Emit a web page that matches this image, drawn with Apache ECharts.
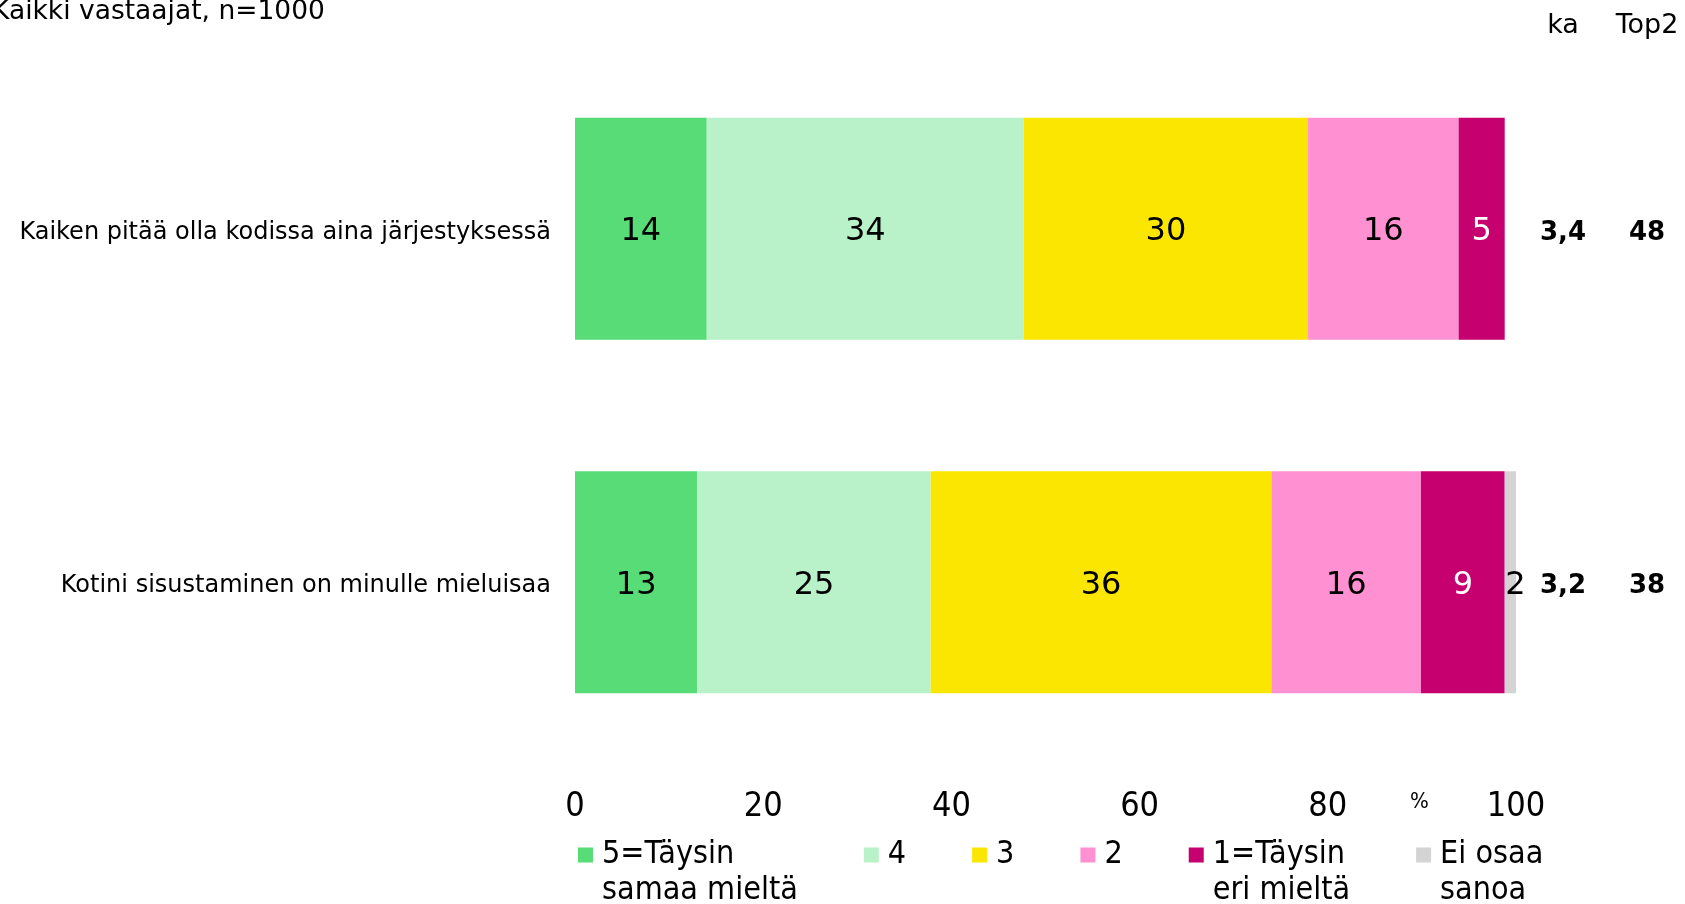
<!DOCTYPE html>
<html>
<head>
<meta charset="utf-8">
<script src="https://cdn.jsdelivr.net/npm/echarts@6/dist/echarts.min.js"></script>
<style>
  html, body { margin: 0; padding: 0; background: #fff; }
  #chart { width: 1685px; height: 904px; }
</style>
</head>
<body>
<div id="chart"></div>
<script>
// statements, top to bottom
const categories = [
  'Kaiken pitää olla kodissa aina järjestyksessä',
  'Kotini sisustaminen on minulle mieluisaa'
];

// shares in %, one array per answer option
const taysinSamaa = [14, 13];
const nelja = [33.7, 24.8];
const kolme = [30.2, 36.2];
const kaksi = [16, 15.9];
const taysinEri = [4.9, 8.9];
const eiOsaa = [0, 1.5];

const kaValues = ['3,4', '3,2'];
const top2Values = ['48', '38'];

const xTicks = [0, 20, 40, 60, 80, 100];

const FONT = 'DejaVu Sans, Verdana, sans-serif';
const FONT_NARROW = 'DejaVu Sans Condensed, DejaVu Sans, sans-serif';

// series definition: [legend name, data, colour, label colour, label offset]
const seriesDefs = [
  ['5=Täysin\nsamaa mieltä', taysinSamaa, '#57DC77', '#000', [0, 3]],
  ['4\n ', nelja, '#B9F2C8', '#000', [0, 3]],
  ['3\n ', kolme, '#FAE600', '#000', [0, 3]],
  ['2\n ', kaksi, '#FF91D2', '#000', [0, 3]],
  ['1=Täysin\neri mieltä', taysinEri, '#C6006F', '#fff', [0, 3]],
  ['Ei osaa\nsanoa', eiOsaa, '#D4D4D4', '#000', [5, 3]]
];

// legend square sits on the first text line (blank space below it in the path box)
const legendIcon = 'path://M0,0H15V15H0Z M19,51';

// small blank line above a label nudges it a few px down
const nudgeRich = { gap: { fontSize: 4, lineHeight: 8 } };
const nudge = s => '{gap| }\n' + s;

const chart = echarts.init(document.getElementById('chart'));

const series = seriesDefs.map(([name, data, colour, labelColour, offset]) => ({
  name: name,
  type: 'bar',
  stack: 'total',
  barWidth: 222,
  data: data,
  itemStyle: { color: colour },
  label: {
    show: true,
    position: 'inside',
    offset: offset,
    color: labelColour,
    fontFamily: FONT,
    fontSize: 32,
    formatter: p => (p.value ? String(Math.round(p.value)) : '')
  }
}));

// right-hand columns (ka, Top2) as extra category axes
function sideAxis(title, values, offset) {
  return {
    type: 'category',
    inverse: true,
    position: 'right',
    offset: offset,
    data: categories,
    axisLine: { show: false },
    axisTick: { show: false },
    axisLabel: {
      margin: 0,
      align: 'center',
      fontFamily: FONT,
      fontWeight: 'bold',
      fontSize: 26,
      lineHeight: 30,
      color: '#000',
      rich: nudgeRich,
      formatter: (v, i) => nudge(values[i])
    },
    name: title,
    nameLocation: 'start',
    nameGap: 13,
    nameTextStyle: { fontFamily: FONT, fontSize: 27, color: '#000', align: 'center' }
  };
}

chart.setOption({
  animation: false,
  title: {
    text: 'Kaikki vastaajat, n=1000',
    left: -8,
    top: -1,
    padding: 0,
    textStyle: { fontFamily: FONT, fontSize: 26.5, fontWeight: 'normal', color: '#000' }
  },
  grid: { left: 575, right: 169, top: 52, bottom: 145 },
  xAxis: {
    type: 'value',
    min: 0,
    max: 100,
    interval: 20,
    axisLine: { show: false },
    axisTick: { show: false },
    splitLine: { show: false },
    axisLabel: {
      margin: 31,
      fontFamily: FONT_NARROW,
      fontSize: 34,
      color: '#000',
      formatter: v => (xTicks.includes(v) ? String(v) : '')
    }
  },
  yAxis: [
    {
      type: 'category',
      inverse: true,
      data: categories,
      axisLine: { show: false },
      axisTick: { show: false },
      axisLabel: {
        margin: 24,
        fontFamily: FONT,
        fontSize: 24,
        lineHeight: 28,
        color: '#000',
        rich: nudgeRich,
        formatter: v => nudge(v)
      }
    },
    sideAxis('ka', kaValues, 47),
    sideAxis('Top2', top2Values, 131)
  ],
  legend: {
    left: 578,
    top: 837,
    padding: 0,
    itemGap: 66,
    itemWidth: 19,
    itemHeight: 51,
    icon: legendIcon,
    textStyle: {
      fontFamily: FONT_NARROW,
      fontSize: 32,
      lineHeight: 36,
      color: '#000'
    },
    data: seriesDefs.map(d => d[0])
  },
  graphic: [{
    type: 'text',
    left: 1410,
    top: 791,
    style: { text: '%', font: '22px ' + FONT_NARROW, fill: '#000' }
  }],
  series: series
});
</script>
</body>
</html>
